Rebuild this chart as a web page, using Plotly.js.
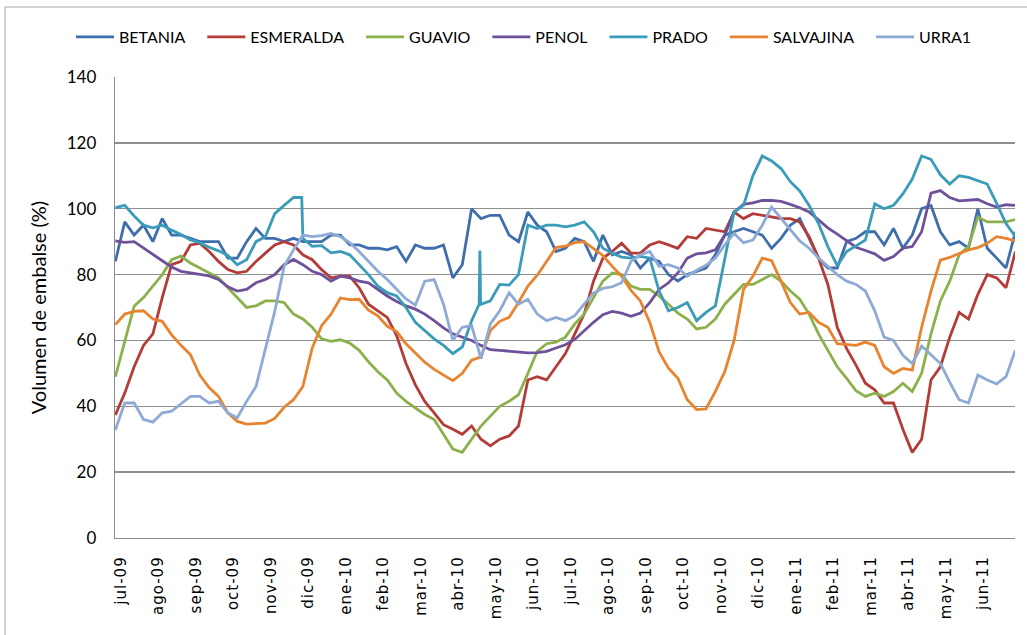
<!DOCTYPE html>
<html>
<head>
<meta charset="utf-8">
<script src="https://cdn.plot.ly/plotly-3.0.1.min.js"></script>
<style>
  html, body { margin: 0; padding: 0; background: #fff; }
  #chart { width: 1027px; height: 635px; }
  .xtick text { letter-spacing: 1px; }
</style>
</head>
<body>
<div id="chart"></div>
<script>
// Month tick labels (one per month, equally spaced as in the original)
const monthLabels = ['jul-09','ago-09','sep-09','oct-09','nov-09','dic-09','ene-10','feb-10','mar-10','abr-10','may-10','jun-10',
                     'jul-10','ago-10','sep-10','oct-10','nov-10','dic-10','ene-11','feb-11','mar-11','abr-11','may-11','jun-11'];

// Sampling positions: quarter-month steps (in month units, 0 = jul-09 label)
const xStart = -0.15, xStep = 0.25, nPts = 97;

// Series values (% of reservoir volume)
const BETANIA = [84,96,92,95,90,97,92,92,91,90, 90,90,85,85,90,94,91,91,90,91, 90,90,90,92,92,89,89,88,88,87.5,
  88.5,84,89,88,88,89,79,83,100,97, 98,98,92,90,99,95,93,87,88,91, 90,84,92,86,87,86,82,85,84,80,
  78,80,81,82,86,92,93,94,93,92, 88,91,95,97,91,85,82,82,90,91, 93,93,89,94,88,92,100,101,93,89,
  90,88,100,88,85,82,93];
const ESMERALDA = [37.4,44,52,58.5,62,73,83,84,89,89.5, 87,84,81.5,80.5,81,84,86.5,89,90,89, 86,84.5,81.5,79,79.5,79.5,76,71,69,67,
  61.5,53,46.5,41.5,38,34.4,33,31.5,34,30, 28,30,31,34,48,49,48,52,56,62, 68,78,85,87,89.5,86.5,86.5,89,90,89,
  88,91.5,91,94,93.5,93,99,97,98.5,98, 97.5,97,97,96,91.5,85,77,64,57.5,52.5, 47,45,41,41,33,26,30,48,52,61,
  68.5,66.5,74,80,79,76,87];
const GUAVIO = [49,60,70.4,73,76.5,80,84.5,85.6,83.5,82, 80.5,79,76,73,70,70.5,72,72,71.5,68, 66.5,64,60.5,59.7,60.2,59.2,57,53.5,50.5,48,
  44,41.5,39.5,37.5,36,31.3,27,26,30,34, 37,40,41.5,43.5,50,56.7,59,59.5,61,65, 68,73,78,80.5,80,76.5,75.5,75.5,73.5,71,
  68.3,66.5,63.5,64,66.5,71,74,77,77,78.5, 80,78,75,72.5,68,62,57,52,48.5,44.7, 43,44,43,44.5,47,44.5,50,62,72,78,
  86,88.5,97.5,96,96,96,96.7];
const PENOL = [90.2,89.8,90,88,86,84.2,82.3,81,80.5,80, 79.6,78.5,76.3,75,75.5,77.5,78.5,80,83,84.6, 83,81,80,78,79.5,79,78,77.5,75.5,73.5,
  71.8,70.5,69.5,68,66,63.8,62,61,60,58.5, 57.2,57,56.7,56.5,56.2,56.3,56.7,57.7,58.7,60.3, 63,65.5,67.8,68.8,68.3,67.3,68.3,71.5,75.5,77.5,
  80.5,85,86.3,86.6,87.5,92,99,101.3,101.8,102.5, 102.5,102.2,101.3,100.3,99,96.5,94.2,92.3,90.4,88.3, 87.3,86.3,84.3,85.5,88,88.5,93,104.7,105.5,103.4,
  102.4,102.7,102.8,101.5,100.5,101.2,101];
const PRADO = [100.3,101,97.8,95,94.2,95,93.5,92.2,90.5,89.7, 88.3,87.2,85.8,83,84.5,90,91.5,98.5,101,103.4, 91,88.6,88.8,86.6,87,86,83,80,76.5,74.5,
  73.5,70,65.5,63,60.5,58.5,56,58,66,71, 72,77,76.8,80,95,94,95,95,94.5,95, 96,93,88,86.5,85.3,85,85.5,85,75,69,
  70,71.5,66,68.5,70.5,85,99,101,110,116, 114.5,112.2,108.2,105.4,101,95.5,88.5,82.7,87,88.7, 90.5,101.5,100,101,104.5,109,116,115,110.3,107.5,
  110,109.5,108.6,107.5,101.6,95.5,91.5];
// extra PRADO readings between samples (sudden drop dic-09, one-day spike abr-10)
const PRADO_EXTRA_X = [4.82, 9.55, 9.57, 9.59];
const PRADO_EXTRA_Y = [103.4, 71, 87.3, 71.2];
const SALVAJINA = [64.8,68,68.8,69,66.5,65.8,61.7,58.5,55.7,49.5, 45.7,43,38,35.4,34.6,34.7,34.9,36.3,39.7,42, 46,57.7,64.5,68,72.9,72.4,72.5,69.2,67.5,64.3,
  62.7,59,56.2,53.4,51.2,49.5,47.8,50,54,55, 63,65.8,67,71.5,76.5,79.8,84,88.2,88.6,89.7, 90,88,85.8,82.5,79.5,75.2,72,65.5,56.5,51.6,
  48.5,42,39,39.2,44.5,50.5,60,75.5,79.5,85, 84.2,78,71.5,68,68.5,65.5,64,59,58.8,58.5, 59.5,58.5,52,50,51.5,51,64,75,84.4,85.2,
  86.4,87.5,88.2,89.5,91.5,91,90.2];
const URRA1 = [32.8,41,41,36,35.2,38,38.5,40.8,43,43, 41,41.5,38,36.5,41.5,46,57.7,68.8,82.5,87.5, 92,91.5,91.8,92.5,91.5,89.7,87,84,81,78.5,
  75.5,72.6,70.7,78,78.5,71,60,64,64.5,54.5, 65,69,74.5,71,72.5,68,66,67,66,67.5, 71,74.4,75.8,76.3,77.5,84,86,87,82.5,83,
  82,79.5,81.3,82.8,85,89,92.5,89.7,90.5,95, 100.5,97,93.5,90.2,88,85,82.5,80,78,77, 75,69,61,60,55.5,53,58.3,55.5,53,47.3,
  42,41,49.5,48,46.8,49,57];

const seriesNames = ['BETANIA','ESMERALDA','GUAVIO','PENOL','PRADO','SALVAJINA','URRA1'];
const seriesColors = ['#3F6EAC','#B33C38','#8CB04B','#6F519A','#3A9CB8','#E8842F','#8EAAD5'];

const xs = [];
for (let i = 0; i < nPts; i++) xs.push(+(xStart + i * xStep).toFixed(3));

function merged(x, y, ex, ey) {
  const pts = x.map((v, i) => [v, y[i]]).concat(ex.map((v, i) => [v, ey[i]]));
  pts.sort((a, b) => a[0] - b[0]);
  return { x: pts.map(p => p[0]), y: pts.map(p => p[1]) };
}

// extra gap after each legend entry (en space + four-per-em space)
const legendGap = '\u2002\u2005';

const dataArrays = [BETANIA, ESMERALDA, GUAVIO, PENOL, PRADO, SALVAJINA, URRA1];
const traces = dataArrays.map((arr, i) => {
  let x = xs, y = arr;
  if (seriesNames[i] === 'PRADO') {
    const m = merged(xs, arr, PRADO_EXTRA_X, PRADO_EXTRA_Y);
    x = m.x; y = m.y;
  }
  return {
    type: 'scatter', mode: 'lines',
    name: seriesNames[i] + (i < seriesNames.length - 1 ? legendGap : ''),
    x: x, y: y,
    line: { color: seriesColors[i], width: 2.8 }, hoverinfo: 'skip'
  };
});

const plotW = 1027 - 115 - 12;
const plotH = 635 - 77 - 97;
const px2paperX = p => (p - 115) / plotW;
const py2paperY = p => (635 - 97 - p) / plotH;

const layout = {
  width: 1027, height: 635,
  margin: { l: 115, r: 12, t: 77, b: 97, pad: 0 },
  paper_bgcolor: '#ffffff', plot_bgcolor: '#ffffff',
  font: { family: 'Lato, sans-serif', color: '#000' },
  showlegend: true,
  legend: {
    orientation: 'h', x: px2paperX(71), xanchor: 'left', y: py2paperY(37), yanchor: 'middle',
    font: { family: 'Lato, sans-serif', size: 16, color: '#000' },
    bgcolor: 'rgba(0,0,0,0)', itemwidth: 38, traceorder: 'normal'
  },
  xaxis: {
    range: [-0.16, 23.84],
    tickmode: 'array', tickvals: monthLabels.map((_, i) => i), ticktext: monthLabels,
    tickangle: -90, ticks: '', showgrid: false, zeroline: false,
    showline: true, linecolor: '#8c8c8c', linewidth: 1.3,
    tickfont: { family: 'DejaVu Sans, sans-serif', size: 15, color: '#000' },
    ticklabelstandoff: 11, fixedrange: true
  },
  yaxis: {
    range: [0, 140], tick0: 0, dtick: 20, ticks: '',
    showgrid: true, gridcolor: '#8f8f8f', gridwidth: 1.3,
    zeroline: false, showline: true, linecolor: '#8c8c8c', linewidth: 1.3,
    tickfont: { family: 'Lato, sans-serif', size: 17, color: '#000' },
    ticklabelstandoff: 14,
    title: { text: 'Volumen de embalse (%)', font: { family: 'Lato, sans-serif', size: 20, color: '#000' }, standoff: 14 },
    fixedrange: true
  },
  shapes: [{
    type: 'rect', xref: 'paper', yref: 'paper',
    x0: px2paperX(5), x1: px2paperX(1040), y0: py2paperY(650), y1: py2paperY(7),
    line: { color: '#a6a6a6', width: 1 }, fillcolor: 'rgba(0,0,0,0)', layer: 'below'
  }],
  hovermode: false
};

Plotly.newPlot('chart', traces, layout, { staticPlot: true, displayModeBar: false });
</script>
</body>
</html>
